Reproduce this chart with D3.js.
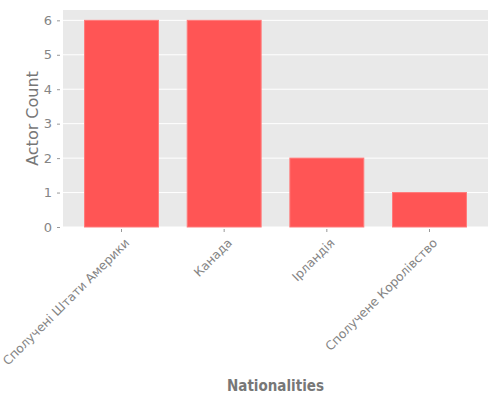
<!DOCTYPE html>
<html>
<head>
<meta charset="utf-8">
<script src="https://cdn.jsdelivr.net/npm/d3@7"></script>
<style>
  body { margin: 0; background: #fff; }
  text { font-family: "DejaVu Sans", sans-serif; }
</style>
</head>
<body>
<svg id="chart" width="500" height="400"></svg>
<script>
var nationalities = [ "Сполучені Штати Америки", "Канада", "Ірландія", "Сполучене Королівство" ];
var actorCounts = [ 6, 6, 2, 1 ];
var yTicks = [ 0, 1, 2, 3, 4, 5, 6 ];

var margin = { left: 63, top: 10, right: 12, bottom: 173 };
var width = 500, height = 400;

var svg = d3.select("#chart");

var x = d3.scaleBand()
	.domain(nationalities)
	.range([ margin.left, width - margin.right ])
	.paddingInner(0.28)
	.paddingOuter(0.21);

var y = d3.scaleLinear()
	.domain([ 0, 6.3 ])
	.range([ height - margin.bottom, margin.top ]);

// panel background
svg.append("rect")
	.attr("x", margin.left)
	.attr("y", margin.top)
	.attr("width", width - margin.left - margin.right)
	.attr("height", height - margin.top - margin.bottom)
	.attr("fill", "#e9e9e9");

// grid lines
svg.append("g").selectAll("line").data(yTicks).enter().append("line")
	.attr("x1", margin.left)
	.attr("x2", width - margin.right)
	.attr("y1", function(d) { return y(d); })
	.attr("y2", function(d) { return y(d); })
	.attr("stroke", "#fff")
	.attr("stroke-width", 1);

// bars
svg.append("g").selectAll("rect").data(actorCounts).enter().append("rect")
	.attr("x", function(d, i) { return x(nationalities[i]); })
	.attr("y", function(d) { return y(d); })
	.attr("width", x.bandwidth())
	.attr("height", function(d) { return y(0) - y(d); })
	.attr("fill", "#ff5555")
	.attr("stroke", "#ff7a7a")
	.attr("stroke-width", 1);

// y axis
var yAxis = svg.append("g")
	.attr("transform", "translate(" + (margin.left - 3) + ",0)")
	.call(d3.axisLeft(y).tickValues(yTicks).tickFormat(d3.format("d")).tickSize(3).tickPadding(5));
yAxis.select(".domain").remove();
yAxis.selectAll("line").attr("stroke", "#999");
yAxis.selectAll("text").attr("fill", "#858585").style("font-size", "13px");

// x axis
var xAxis = svg.append("g")
	.attr("transform", "translate(0," + (height - margin.bottom + 2) + ")")
	.call(d3.axisBottom(x).tickSize(3).tickPadding(5));
xAxis.select(".domain").remove();
xAxis.selectAll("line").attr("stroke", "#999");
xAxis.selectAll("text")
	.attr("fill", "#858585")
	.style("font-size", "12.3px")
	.attr("text-anchor", "end")
	.attr("dy", "0.35em")
	.attr("transform", "translate(0,6) rotate(-45)");

// axis titles
svg.append("text")
	.attr("transform", "translate(38," + ((margin.top + height - margin.bottom) / 2) + ") rotate(-90)")
	.attr("text-anchor", "middle")
	.attr("fill", "#777")
	.style("font-size", "16px")
	.text("Actor Count");

svg.append("text")
	.attr("x", (margin.left + width - margin.right) / 2)
	.attr("y", 391)
	.attr("text-anchor", "middle")
	.attr("fill", "#777")
	.style("font-family", "'DejaVu Sans Condensed', 'DejaVu Sans', sans-serif")
	.style("font-size", "15px")
	.style("font-weight", "bold")
	.text("Nationalities");
</script>
</body>
</html>
